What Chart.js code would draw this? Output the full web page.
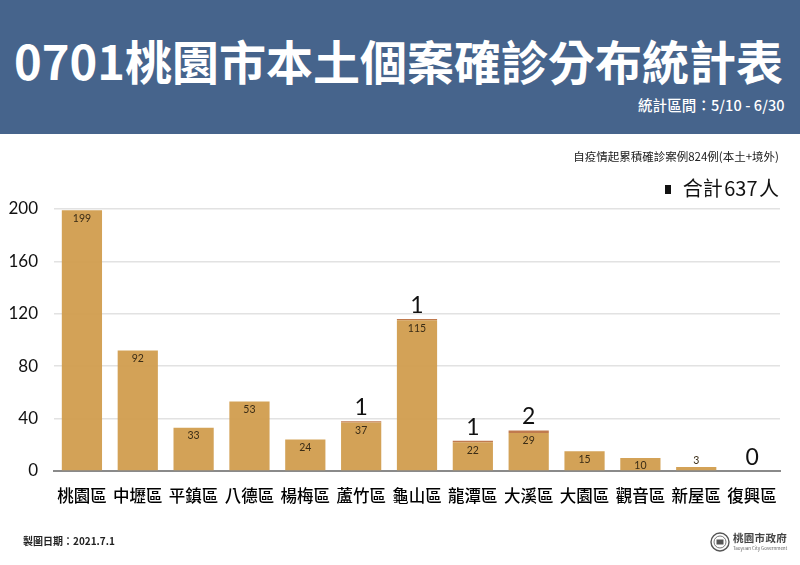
<!DOCTYPE html>
<html lang="zh-Hant">
<head>
<meta charset="utf-8">
<script src="https://cdn.jsdelivr.net/npm/chart.js@4"></script>
<style>
html,body{margin:0;padding:0;background:#fff;width:800px;height:565px;overflow:hidden;font-family:"Noto Sans CJK TC",sans-serif}
#wrap{position:relative;width:800px;height:565px}
canvas{position:absolute;left:0;top:0}
.t{position:absolute;white-space:nowrap;line-height:1}
#head{position:absolute;left:0;top:0;width:800px;height:134px;background:#46648c}
#title{left:14px;top:36px;font-size:47px;font-weight:700;color:#fff}
#range{left:638px;top:98px;font-size:14.5px;font-weight:500;color:#fff;letter-spacing:.1px}
#note{right:21px;top:151px;font-size:11.5px;color:#222}
#total{right:21px;top:178px;font-size:20px;color:#111;word-spacing:-3px}
#sq{position:absolute;left:665px;top:185px;width:6px;height:9px;background:#111}
#date{left:23px;top:536px;font-size:10px;font-weight:700;color:#222}
#logo{position:absolute;left:710px;top:532px}
#gov{left:733px;top:533px;font-size:10.5px;font-weight:700;color:#444;letter-spacing:.3px}
#gov2{left:733px;top:546px;font-size:4.5px;color:#666}
</style>
</head>
<body>
<div id="wrap">
<canvas id="c" width="800" height="565"></canvas>
<div id="head"></div>
<div class="t" id="title">0701桃園市本土個案確診分布統計表</div>
<div class="t" id="range">統計區間：5/10 - 6/30</div>
<div class="t" id="note">自疫情起累積確診案例824例(本土+境外)</div>
<div id="sq"></div>
<div class="t" id="total">合計 637 人</div>
<div class="t" id="date">製圖日期：2021.7.1</div>
<svg id="logo" width="20" height="20" viewBox="0 0 20 20">
<circle cx="10" cy="10" r="9" fill="none" stroke="#555" stroke-width="1.4"/>
<circle cx="10" cy="10" r="6" fill="none" stroke="#777" stroke-width="1"/>
<rect x="6.5" y="7.5" width="7" height="5" fill="#555"/>
</svg>
<div class="t" id="gov">桃園市政府</div>
<div class="t" id="gov2">Taoyuan City Government</div>
</div>
<script>
const categories = ["桃園區","中壢區","平鎮區","八德區","楊梅區","蘆竹區","龜山區","龍潭區","大溪區","大園區","觀音區","新屋區","復興區"];
const mainValues = [199,92,33,53,24,37,115,22,29,15,10,3,0];
const extraValues = [0,0,0,0,0,1,1,1,2,0,0,0,0];
const extraLabels = [null,null,null,null,null,"1","1","1","2",null,null,null,"0"];
const FONT = '"Noto Sans CJK TC",sans-serif';

const labelPlugin = {
  id: 'barLabels',
  afterDatasetsDraw(chart) {
    const ctx = chart.ctx;
    const m0 = chart.getDatasetMeta(0).data, m1 = chart.getDatasetMeta(1).data;
    ctx.save();
    ctx.textAlign = 'center';
    mainValues.forEach((v, i) => {
      if (v > 0) {
        ctx.font = '10.5px Lato,' + FONT;
        ctx.fillStyle = '#3a2c16';
        ctx.textBaseline = 'middle';
        const small = v < 5;
        ctx.fillText(String(v), m0[i].x, small ? m0[i].y - 6 : m0[i].y + 8);
      }
      if (extraLabels[i] !== null) {
        ctx.font = '23px Lato,' + FONT;
        ctx.fillStyle = '#111';
        ctx.textBaseline = 'alphabetic';
        ctx.fillText(extraLabels[i], m1[i].x, m1[i].y - 6);
      }
    });
    ctx.restore();
  }
};

new Chart(document.getElementById('c'), {
  type: 'bar',
  data: {
    labels: categories,
    datasets: [
      {data: mainValues, backgroundColor: 'rgba(208,156,76,0.94)', barPercentage: 0.72, categoryPercentage: 1, borderWidth: 0},
      {data: extraValues, backgroundColor: '#c07a4e', barPercentage: 0.72, categoryPercentage: 1, borderWidth: 0}
    ]
  },
  plugins: [labelPlugin],
  options: {
    responsive: false,
    animation: false,
    devicePixelRatio: 1,
    layout: {padding: {top: 209, right: 20, left: 0, bottom: 0}},
    plugins: {legend: {display: false}, title: {display: false}, tooltip: {enabled: false}},
    scales: {
      x: {
        stacked: true,
        afterFit(s) { s.height = 94; },
        grid: {display: false, drawTicks: false},
        border: {color: '#8a8a8a', width: 2},
        ticks: {padding: 15, color: '#000', font: {family: FONT, size: 16.5, weight: 500}, maxRotation: 0, autoSkip: false}
      },
      y: {
        stacked: true,
        min: 0, max: 200,
        afterFit(s) { s.width = 54; },
        grid: {color: '#e2e2e2', lineWidth: 1.5, drawTicks: false},
        border: {display: false},
        ticks: {stepSize: 40, padding: 16, color: '#111', font: {family: 'Lato,' + FONT, size: 17}}
      }
    }
  }
});
</script>
</body>
</html>
